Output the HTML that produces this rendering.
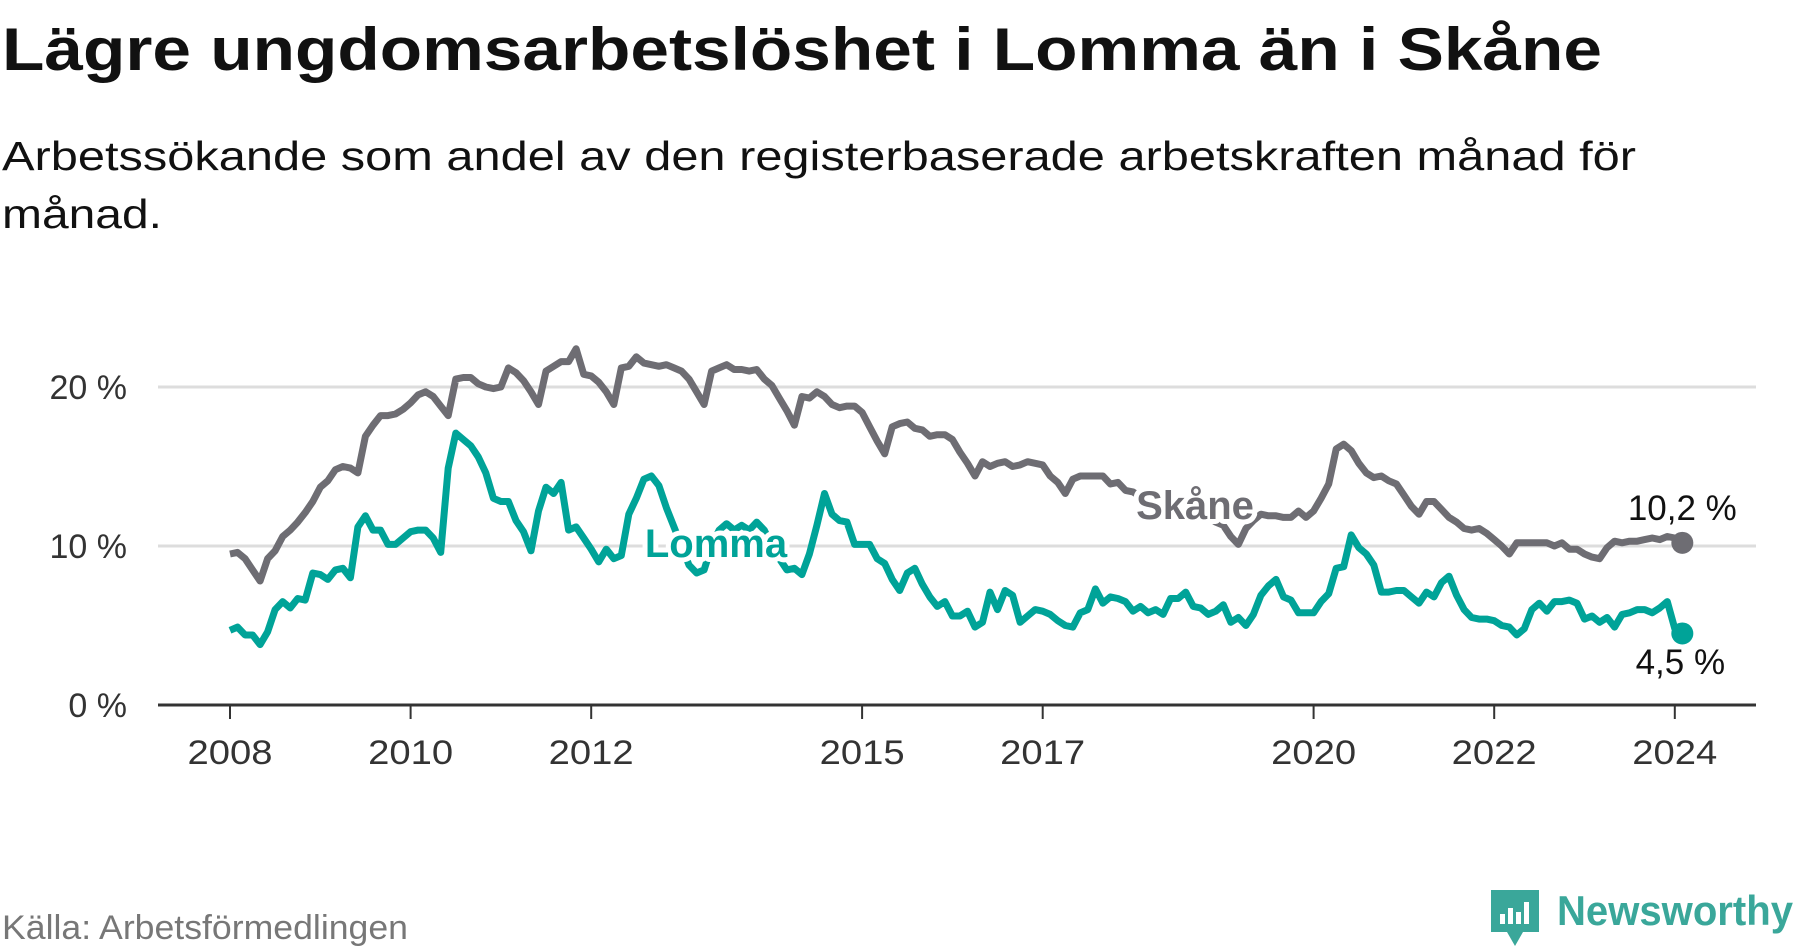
<!DOCTYPE html>
<html><head><meta charset="utf-8">
<style>
body{margin:0;background:#fff;width:1800px;height:948px;overflow:hidden}
svg{display:block;font-family:"Liberation Sans","DejaVu Sans",sans-serif}
</style></head>
<body>
<svg id="chart" width="1800" height="948" viewBox="0 0 1800 948">
<text x="2" y="70" font-size="60" font-weight="bold" fill="#111" textLength="1600" lengthAdjust="spacingAndGlyphs">Lägre ungdomsarbetslöshet i Lomma än i Skåne</text>
<text x="2" y="170" font-size="41" fill="#111" textLength="1634" lengthAdjust="spacingAndGlyphs">Arbetssökande som andel av den registerbaserade arbetskraften månad för</text>
<text x="2" y="228" font-size="41" fill="#111" textLength="160" lengthAdjust="spacingAndGlyphs">månad.</text>
<g id="grid"></g><g id="axis"></g><g id="series"></g><g id="labels"></g>
<text x="2" y="939" font-size="34" fill="#777" textLength="406" lengthAdjust="spacingAndGlyphs">Källa: Arbetsförmedlingen</text>
<g>
<path d="M1491 890h48v42h-16l-8 14-8-14h-16z" fill="#3aa79a"/>
<rect x="1500" y="914" width="5" height="10" fill="#fff"/><rect x="1508" y="908" width="5" height="16" fill="#fff"/><rect x="1516" y="912" width="5" height="12" fill="#fff"/><rect x="1524" y="902" width="5" height="22" fill="#fff"/>
<text x="1557" y="925" font-size="42" font-weight="bold" fill="#3aa79a" textLength="236" lengthAdjust="spacingAndGlyphs">Newsworthy</text>
</g>
</svg>
<script>
const skane = [
9.5,9.6,9.2,8.5,7.8,9.2,9.7,10.6,11.0,11.5,12.1,12.8,
13.7,14.1,14.8,15.0,14.9,14.6,16.9,17.6,18.2,18.2,18.3,18.6,
19.0,19.5,19.7,19.4,18.8,18.2,20.5,20.6,20.6,20.2,20.0,19.9,
20.0,21.2,20.9,20.4,19.7,18.9,21.0,21.3,21.6,21.6,22.4,20.8,
20.7,20.3,19.7,18.9,21.2,21.3,21.9,21.5,21.4,21.3,21.4,21.2,
21.0,20.5,19.7,18.9,21.0,21.2,21.4,21.1,21.1,21.0,21.1,20.5,
20.1,19.3,18.5,17.6,19.4,19.3,19.7,19.4,18.9,18.7,18.8,18.8,
18.4,17.5,16.6,15.8,17.5,17.7,17.8,17.4,17.3,16.9,17.0,17.0,
16.7,15.9,15.2,14.4,15.3,15.0,15.2,15.3,15.0,15.1,15.3,15.2,
15.1,14.4,14.0,13.3,14.2,14.4,14.4,14.4,14.4,13.9,14.0,13.5,
13.4,13.1,12.8,12.5,12.9,13.0,12.8,12.6,12.3,12.0,11.8,11.5,
11.3,10.6,10.1,11.1,11.6,12.0,11.9,11.9,11.8,11.8,12.2,11.8,
12.2,13.0,13.9,16.1,16.4,16.0,15.2,14.6,14.3,14.4,14.1,13.9,
13.2,12.5,12.0,12.8,12.8,12.3,11.8,11.5,11.1,11.0,11.1,10.8,
10.4,10.0,9.5,10.2,10.2,10.2,10.2,10.2,10.0,10.2,9.8,9.8,
9.5,9.3,9.2,9.9,10.3,10.2,10.3,10.3,10.4,10.5,10.4,10.6,
10.5,10.2];
const lomma = [
4.7,4.9,4.4,4.4,3.8,4.6,6.0,6.5,6.1,6.7,6.6,8.3,
8.2,7.9,8.5,8.6,8.0,11.2,11.9,11.0,11.0,10.1,10.1,10.5,
10.9,11.0,11.0,10.5,9.6,14.9,17.1,16.7,16.3,15.6,14.6,13.0,
12.8,12.8,11.6,10.9,9.7,12.2,13.7,13.3,14.0,11.0,11.2,10.5,
9.8,9.0,9.8,9.2,9.4,12.0,13.0,14.2,14.4,13.8,12.4,11.2,
10.0,8.8,8.3,8.5,10.0,11.0,11.4,11.0,11.3,11.0,11.5,11.0,
10.0,9.2,8.5,8.6,8.2,9.5,11.3,13.3,12.0,11.6,11.5,10.1,
10.1,10.1,9.2,8.9,7.9,7.2,8.3,8.6,7.6,6.8,6.2,6.5,
5.6,5.6,5.9,4.9,5.2,7.1,6.0,7.2,6.9,5.2,5.6,6.0,
5.9,5.7,5.3,5.0,4.9,5.8,6.0,7.3,6.4,6.8,6.7,6.5,
5.9,6.2,5.8,6.0,5.7,6.7,6.7,7.1,6.2,6.1,5.7,5.9,
6.3,5.2,5.5,5.0,5.7,6.9,7.5,7.9,6.8,6.6,5.8,5.8,
5.8,6.5,7.0,8.6,8.7,10.7,9.9,9.5,8.8,7.1,7.1,7.2,
7.2,6.8,6.4,7.1,6.8,7.7,8.1,6.9,6.0,5.5,5.4,5.4,
5.3,5.0,4.9,4.4,4.8,6.0,6.4,5.9,6.5,6.5,6.6,6.4,
5.4,5.6,5.2,5.5,4.9,5.7,5.8,6.0,6.0,5.8,6.1,6.5,
4.8,4.5];
const yTicks = [0,10,20];
const yTickLabels = ["0 %","10 %","20 %"];
const xTicks = [2008,2010,2012,2015,2017,2020,2022,2024];

const NS="http://www.w3.org/2000/svg";
const x = t => 230 + (t-2008)*90.3;
const y = v => 705 - v*15.9;
const mx = i => x(2008 + i/12);
function mk(tag, attrs, parent){const e=document.createElementNS(NS,tag);for(const k in attrs)e.setAttribute(k,attrs[k]);document.getElementById(parent).appendChild(e);return e;}

yTicks.forEach((v,i)=>{
  if(v>0){const g=mk('line',{x1:158,x2:1756,y1:y(v),y2:y(v),stroke:'#dddddd','stroke-width':3},'grid');
  
  }
  const t=mk('text',{x:127,y:y(v)+12,'text-anchor':'end','font-size':34,fill:'#333'},'axis');
  t.textContent=yTickLabels[i];
  
  
});
const ax=mk('line',{x1:158,x2:1756,y1:705,y2:705,stroke:'#333','stroke-width':3},'axis');


xTicks.forEach(yr=>{
  const l=mk('line',{x1:x(yr),x2:x(yr),y1:705,y2:719,stroke:'#333','stroke-width':2},'axis');
  
  
  const t=mk('text',{x:x(yr),y:764,'text-anchor':'middle','font-size':34,fill:'#333',textLength:85,lengthAdjust:'spacingAndGlyphs'},'axis');
  t.textContent=yr;
  
  
});
function line(data,color,name){
  const d=data.map((v,i)=>(i?'L':'M')+mx(i).toFixed(1)+' '+y(v).toFixed(1)).join(' ');
  const p=mk('path',{d:d,fill:'none',stroke:color,'stroke-width':7,'stroke-linejoin':'round'},'series');
  
  
  const n=data.length-1;
  const c=mk('circle',{cx:mx(n),cy:y(data[n]),r:11,fill:color},'series');
  
  
}
line(skane,'#6e6d73','skane');
line(lomma,'#00a398','lomma');
function lab(txt,xx,yy,col,name,bold,size,halo){
  const t=mk('text',{x:xx,y:yy,'text-anchor':'middle','font-size':size,fill:col,'font-weight':bold?'bold':'normal',stroke:halo?'#fff':'none','stroke-width':halo?10:0,'paint-order':'stroke','stroke-linejoin':'round'},'labels');
  t.textContent=txt;
  
  
}
lab('Lomma',716,557,'#00a398','lomma-label',true,40,true);
lab('Skåne',1195,519,'#6e6d73','skane-label',true,40,true);
const n=skane.length-1;
lab(String(skane[n]).replace('.',',')+' %',mx(n),520,'#111','skane-end-value',false,35,true);
lab(String(lomma[n]).replace('.',',')+' %',mx(n)-2,674,'#111','lomma-end-value',false,35,true);
</script>
</body></html>
